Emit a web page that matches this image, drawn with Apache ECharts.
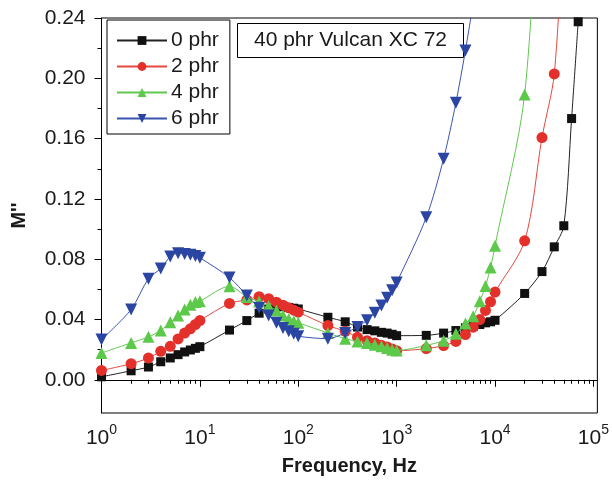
<!DOCTYPE html>
<html>
<head>
<meta charset="utf-8">
<script src="https://cdn.jsdelivr.net/npm/echarts@6/dist/echarts.min.js"></script>
<style>
  html, body { margin: 0; padding: 0; background: #fff; }
  #chart { width: 612px; height: 481px; }
</style>
</head>
<body>
<div id="chart"></div>
<script>
// Measurement frequencies (Hz)
const freq = [1, 2, 3, 4, 5, 6, 7, 8, 9,
  10, 20, 30, 40, 50, 60, 70, 80, 90,
  100, 200, 300, 400, 500, 600, 700, 800, 900,
  1000, 2000, 3000, 4000, 5000, 6000, 7000, 8000, 9000,
  10000, 20000, 30000, 40000, 50000, 60000, 70000];

// Electric modulus loss M'' for each silica loading
const phr0 = [0.002, 0.006, 0.0085, 0.012, 0.0145, 0.0167, 0.0185, 0.0198, 0.0209,
  0.022, 0.033, 0.0393, 0.0442, 0.047, 0.0485, 0.0485, 0.048, 0.0475,
  0.047, 0.0415, 0.0385, 0.035, 0.0333, 0.0325, 0.0315, 0.031, 0.0302,
  0.0293, 0.0295, 0.031, 0.0327, 0.0345, 0.0355, 0.0367, 0.0378, 0.0385,
  0.0395, 0.0573, 0.0718, 0.0882, 0.1022, 0.1733, 0.2375];
const phr2 = [0.0062, 0.0107, 0.0145, 0.0189, 0.0222, 0.0271, 0.031, 0.0338, 0.0367,
  0.0393, 0.0507, 0.053, 0.0551, 0.0538, 0.0515, 0.0495, 0.0478, 0.0462,
  0.0449, 0.036, 0.0322, 0.0282, 0.026, 0.0245, 0.0229, 0.0218, 0.0205,
  0.0193, 0.0207, 0.0227, 0.0255, 0.03, 0.0349, 0.04, 0.046, 0.0518,
  0.0582, 0.0922, 0.1607, 0.2029, 0.31, null, null];
const phr4 = [0.0178, 0.0245, 0.0285, 0.0328, 0.0382, 0.0427, 0.0467, 0.0498, 0.0516,
  0.0522, 0.062, 0.055, 0.052, 0.0489, 0.046, 0.0427, 0.0404, 0.0389,
  0.0378, 0.0311, 0.0273, 0.0255, 0.0245, 0.0233, 0.0222, 0.0211, 0.02,
  0.0195, 0.0229, 0.026, 0.0305, 0.0373, 0.0422, 0.0522, 0.0622, 0.0745,
  0.0889, 0.1893, 0.38, null, null, null, null];
const phr6 = [0.0267, 0.0467, 0.0671, 0.0738, 0.0818, 0.084, 0.0835, 0.083, 0.0822,
  0.081, 0.0678, 0.056, 0.0478, 0.0427, 0.0378, 0.0344, 0.0322, 0.0305,
  0.0289, 0.0273, 0.0311, 0.0351, 0.0395, 0.0445, 0.0493, 0.0545, 0.0595,
  0.0645, 0.1078, 0.1467, 0.1838, 0.2185, 0.25, null, null, null,
  null, null, null, null, null, null, null];

const seriesNames = ['0 phr', '2 phr', '4 phr', '6 phr'];

// Axis ticks
const xMajor = [1, 10, 100, 1000, 10000, 100000];
const xMinor = [2, 3, 4, 5, 6, 7, 8, 9, 20, 30, 40, 50, 60, 70, 80, 90,
  200, 300, 400, 500, 600, 700, 800, 900, 2000, 3000, 4000, 5000, 6000, 7000, 8000, 9000,
  20000, 30000, 40000, 50000, 60000, 70000, 80000, 90000];
const yMajor = [0, 0.04, 0.08, 0.12, 0.16, 0.2, 0.24];
const yMinor = [0.02, 0.06, 0.1, 0.14, 0.18, 0.22];

const FONT = '"Liberation Sans", Arial, Helvetica, sans-serif';
const TXT = '#1a1a1a';

const pair = vals => freq.map((f, i) => [f, vals[i]]);

const styles = [
  { color: '#111111', line: '#222222', symbol: 'rect', size: 9, rotate: 0 },
  { color: '#e3302a', line: '#e5483f', symbol: 'circle', size: 11, rotate: 0 },
  { color: '#5cc94a', line: '#62c751', symbol: 'triangle', size: 12, rotate: 0 },
  { color: '#2b45a3', line: '#3a55b0', symbol: 'triangle', size: 12, rotate: 180 }
];
const values = [phr0, phr2, phr4, phr6];

const chart = echarts.init(document.getElementById('chart'), null, { renderer: 'canvas' });

const yBase = { type: 'value', min: -0.022, max: 0.24, gridIndex: 0, position: 'left', splitLine: { show: false } };
const xBase = { type: 'log', logBase: 10, min: 1, max: 109648, gridIndex: 0, position: 'bottom', splitLine: { show: false } };

chart.setOption({
  animation: false,
  backgroundColor: '#ffffff',
  grid: { left: 101.5, top: 18, width: 502.5, height: 395, show: true, borderColor: '#000', borderWidth: 1, backgroundColor: 'transparent' },
  xAxis: [
    Object.assign({}, xBase, {
      name: 'Frequency, Hz',
      nameLocation: 'middle',
      nameGap: 43,
      nameTextStyle: { fontFamily: FONT, fontSize: 20, fontWeight: 'bold', color: TXT },
      axisLine: { show: true, lineStyle: { color: '#000', width: 1 } },
      axisTick: { show: true, customValues: xMajor, length: 7, inside: false, lineStyle: { color: '#000' } },
      axisLabel: {
        show: true,
        customValues: xMajor,
        margin: 10,
        formatter: v => '{b|10}{s|' + Math.round(Math.log10(v)) + '}',
        rich: {
          b: { fontFamily: FONT, fontSize: 21, color: TXT, lineHeight: 26, verticalAlign: 'bottom' },
          s: { fontFamily: FONT, fontSize: 14, color: TXT, lineHeight: 13, verticalAlign: 'top' }
        }
      }
    }),
    Object.assign({}, xBase, {
      axisLine: { show: false },
      axisTick: { show: true, customValues: xMinor, length: 4, inside: false, lineStyle: { color: '#000' } },
      axisLabel: { show: false }
    })
  ],
  yAxis: [
    Object.assign({}, yBase, {
      name: "M''",
      nameLocation: 'middle',
      nameGap: 72,
      nameTextStyle: { fontFamily: FONT, fontSize: 20, fontWeight: 'bold', color: TXT },
      axisLine: { show: true, lineStyle: { color: '#000', width: 1 } },
      axisTick: { show: true, customValues: yMajor, length: 7, inside: false, lineStyle: { color: '#000' } },
      axisLabel: {
        show: true,
        customValues: yMajor,
        margin: 16,
        formatter: v => v.toFixed(2),
        fontFamily: FONT, fontSize: 21, color: TXT
      }
    }),
    Object.assign({}, yBase, {
      axisLine: { show: false },
      axisTick: { show: true, customValues: yMinor, length: 4, inside: false, lineStyle: { color: '#000' } },
      axisLabel: { show: false }
    })
  ],
  legend: {
    orient: 'vertical',
    left: 107,
    top: 20,
    padding: [10, 11, 5, 9],
    itemWidth: 50,
    itemHeight: 11,
    itemGap: 5,
    borderColor: '#000',
    borderWidth: 1,
    backgroundColor: '#fff',
    textStyle: { fontFamily: FONT, fontSize: 21, color: TXT, lineHeight: 21, padding: [0, 0, 0, -1] },
    data: seriesNames
  },
  graphic: [
    {
      type: 'group',
      left: 237,
      top: 23,
      children: [
        { type: 'rect', shape: { x: 0, y: 0, width: 226, height: 34 }, style: { fill: '#fff', stroke: '#000', lineWidth: 1 } },
        { type: 'text', x: 113, y: 17, style: { text: '40 phr Vulcan XC 72', fontFamily: FONT, fontSize: 21, fill: TXT, align: 'center', verticalAlign: 'middle' } }
      ]
    }
  ],
  series: seriesNames.map((name, i) => ({
    name: name,
    type: 'line',
    xAxisIndex: 0,
    yAxisIndex: 0,
    data: pair(values[i]),
    smooth: 0.3,
    connectNulls: false,
    clip: true,
    symbol: styles[i].symbol,
    symbolSize: styles[i].size,
    symbolRotate: styles[i].rotate,
    showAllSymbol: true,
    itemStyle: { color: styles[i].color },
    lineStyle: { color: styles[i].line, width: 1 },
    emphasis: { disabled: true },
    z: 2 + i
  }))
});
</script>
</body>
</html>
